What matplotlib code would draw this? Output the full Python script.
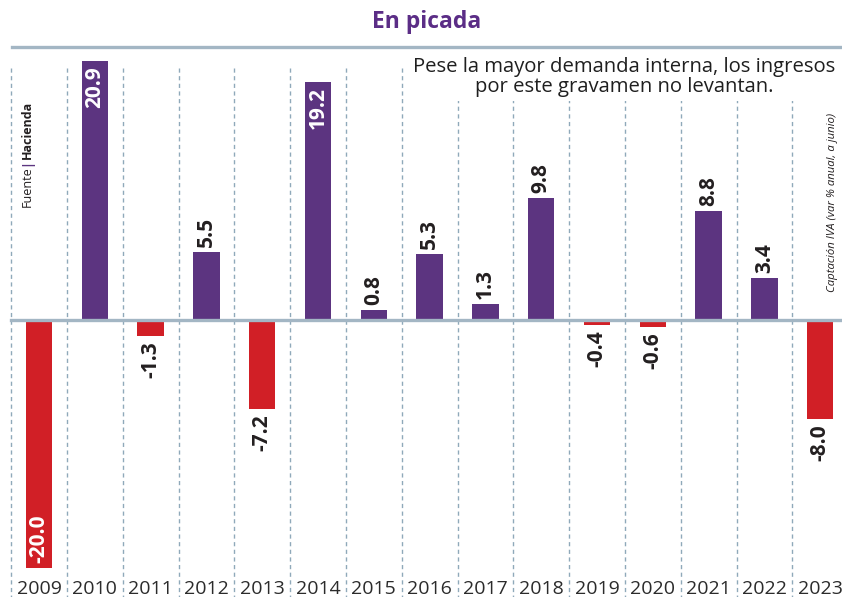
"""En picada: variación anual de la captación de IVA, 2009-2023."""
import matplotlib
matplotlib.use("Agg")
import matplotlib.pyplot as plt
import matplotlib.transforms as mtransforms

# ---- data -------------------------------------------------------------
years = ["2009", "2010", "2011", "2012", "2013", "2014", "2015", "2016",
         "2017", "2018", "2019", "2020", "2021", "2022", "2023"]
values = [-20.0, 20.9, -1.3, 5.5, -7.2, 19.2, 0.8, 5.3,
          1.3, 9.8, -0.4, -0.6, 8.8, 3.4, -8.0]
value_labels = ["-20.0", "20.9", "-1.3", "5.5", "-7.2", "19.2", "0.8", "5.3",
                "1.3", "9.8", "-0.4", "-0.6", "8.8", "3.4", "-8.0"]

title = "En picada"
subtitle = "Pese la mayor demanda interna, los ingresos\npor este gravamen no levantan."
source_a, source_b = "Fuente", "Hacienda"
unit_note = "Captación IVA (var % anual, a junio)"

PURPLE = "#5c3480"
RED = "#d11f26"
TITLE_PURPLE = "#5b2d86"
GRID = "#8fa9ba"
RULE = "#a3b6c4"
DARK = "#231f20"
FONT = "Open Sans"

W, H = 842, 597
plt.rcParams["font.family"] = [FONT, "DejaVu Sans"]

fig = plt.figure(figsize=(W / 100, H / 100), dpi=100)
ax = fig.add_axes([0, 0, 1, 1])

# pixel layout -> data limits (column pitch 55.8 px, ~12.4 px per unit, zero at y=320)
pitch, x0 = 55.8, 39.0
scale, zero_px = 12.4, 320.0
ax.set_xlim(-x0 / pitch, (W - x0) / pitch)
ax.set_ylim(-(H - zero_px) / scale, zero_px / scale)
ax.axis("off")

xs = list(range(len(years)))

# dashed column separators
top_v = (zero_px - 68) / scale
for k in xs:
    ax.plot([k - 0.5, k - 0.5], [top_v, -30], color=GRID, lw=1.0,
            ls=(0, (3, 2.5)), zorder=1)

colors = [PURPLE if v >= 0 else RED for v in values]
ax.bar(xs, values, width=0.47, color=colors, zorder=2)

# zero line
ax.plot([-0.5, 20], [0, 0], color=RULE, lw=2.4, zorder=3)

# value labels
pad = 5 / scale
for k, v, lab in zip(xs, values, value_labels):
    if abs(v) > 15:
        y = v - pad if v > 0 else v + pad
        va = "top" if v > 0 else "bottom"
        col = "white"
    else:
        y = v + pad if v >= 0 else v - pad
        va = "bottom" if v >= 0 else "top"
        col = DARK
    ax.text(k, y, lab, rotation=90, ha="center", va=va, color=col,
            fontsize=15, fontweight="bold", zorder=4)

# year labels along the bottom
trans = mtransforms.blended_transform_factory(ax.transData, ax.transAxes)
for k, yr in zip(xs, years):
    ax.text(k, 1 - 589 / H, yr, ha="center", va="center", fontsize=14,
            color="#2b2b2b", transform=trans,
            bbox=dict(boxstyle="square,pad=0.1", fc="white", ec="none"))

# title and rule
fig.text(427 / W, 1 - 22 / H, title, ha="center", va="center",
         fontsize=16.5, fontweight="bold", color=TITLE_PURPLE)
fig.add_artist(plt.Line2D([12 / W, 1], [1 - 47 / H, 1 - 47 / H],
                          color=RULE, lw=2.4, transform=fig.transFigure))

fig.text(624 / W, 1 - 77 / H, subtitle, ha="center", va="center",
         fontsize=14.6, color="#1f1f1f", linespacing=1.02,
         bbox=dict(boxstyle="square,pad=0.2", fc="white", ec="none"))

# source, rotated, built from three pieces
renderer = fig.canvas.get_renderer()
sx = 27 / W
t1 = fig.text(sx, 1 - 207 / H, source_a, rotation=90, ha="center", va="bottom",
              fontsize=9, color=DARK)
bb = t1.get_window_extent(renderer).transformed(fig.transFigure.inverted())
t2 = fig.text(sx, bb.y1, "|", rotation=90, ha="center", va="bottom",
              fontsize=9, fontweight="bold", color=PURPLE)
bb = t2.get_window_extent(renderer).transformed(fig.transFigure.inverted())
fig.text(sx, bb.y1, source_b, rotation=90, ha="center", va="bottom",
         fontsize=9, fontweight="bold", color=DARK)

# unit note on the right
fig.text(832 / W, 1 - 292 / H, unit_note, rotation=90, ha="center", va="bottom",
         fontsize=8.2, style="italic", color=DARK)

fig.savefig("out.png", dpi=100)
